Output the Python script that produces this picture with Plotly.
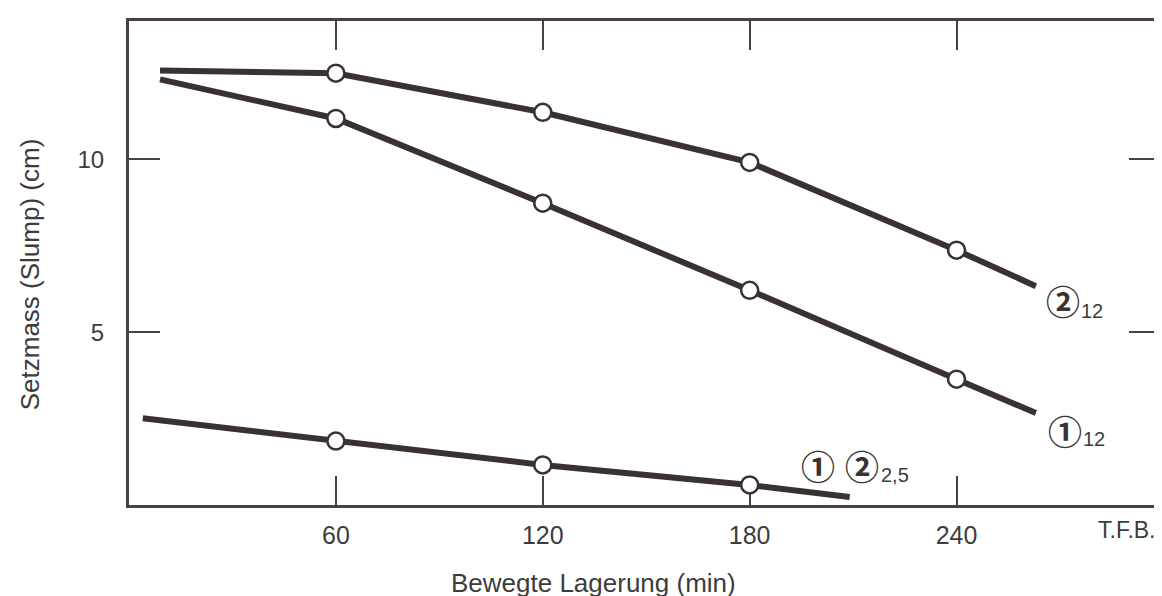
import plotly.graph_objects as go

# ---- data ----
time_2_12 = [9, 60, 120, 180, 240, 263]
slump_2_12 = [12.57, 12.49, 11.36, 9.91, 7.37, 6.33]
marker_2_12 = [False, True, True, True, True, False]

time_1_12 = [9, 60, 120, 180, 240, 263]
slump_1_12 = [12.31, 11.18, 8.73, 6.21, 3.64, 2.66]
marker_1_12 = [False, True, True, True, True, False]

time_2_5 = [4, 60, 120, 180, 209]
slump_2_5 = [2.51, 1.85, 1.16, 0.58, 0.23]
marker_2_5 = [False, True, True, True, False]

x_tickvals = [60, 120, 180, 240]
x_ticktext = ["60", "120", "180", "240"]
y_tickvals = [5, 10]
y_ticktext = ["5", "10"]

LINE = "#3a3131"
AXIS = "#4a4040"
TEXT = "#3c3c3c"
FONT = "Liberation Sans, Arial, sans-serif"
CJK = "Noto Sans CJK SC, DejaVu Sans, sans-serif"

fig = go.Figure()

for xs, ys, ms in [(time_2_12, slump_2_12, marker_2_12),
                   (time_1_12, slump_1_12, marker_1_12),
                   (time_2_5, slump_2_5, marker_2_5)]:
    fig.add_trace(go.Scatter(x=xs, y=ys, mode="lines",
                             line=dict(color=LINE, width=6),
                             hoverinfo="skip", showlegend=False))
    fig.add_trace(go.Scatter(x=[x for x, m in zip(xs, ms) if m],
                             y=[y for y, m in zip(ys, ms) if m],
                             mode="markers",
                             marker=dict(symbol="circle", size=17, color="white",
                                         line=dict(color=LINE, width=2.5)),
                             showlegend=False))

fig.update_xaxes(range=[0, 299], tickvals=x_tickvals, ticktext=x_ticktext,
                 showline=True, linecolor=AXIS, linewidth=3, mirror="ticks",
                 ticks="inside", ticklen=29, tickwidth=2, tickcolor=AXIS,
                 showgrid=False, zeroline=False, layer="below traces",
                 tickfont=dict(family=FONT, size=25, color=TEXT),
                 ticklabelstandoff=6)
fig.update_yaxes(range=[0, 14], tickvals=y_tickvals, ticktext=y_ticktext,
                 showline=True, linecolor=AXIS, linewidth=3, mirror="ticks",
                 ticks="inside", ticklen=31, tickwidth=2, tickcolor=AXIS,
                 showgrid=False, zeroline=False, layer="below traces",
                 tickfont=dict(family=FONT, size=24, color=TEXT),
                 ticklabelstandoff=17)

ann = []
# axis titles
ann.append(dict(text="Bewegte Lagerung (min)", xref="paper", yref="paper",
                x=0.4507, y=(497 - 575) / 484, xanchor="center", yanchor="middle",
                showarrow=False, font=dict(family=FONT, size=26, color=TEXT)))
ann.append(dict(text="Setzmass (Slump) (cm)", xref="paper", yref="paper",
                x=(22 - 121) / 1034, y=(497 - 266) / 484, xanchor="center", yanchor="middle",
                textangle=-90, showarrow=False,
                font=dict(family=FONT, size=26, color=TEXT)))
ann.append(dict(text="T.F.B.", xref="paper", yref="paper",
                x=(1122 - 121) / 1034, y=(497 - 522) / 484,
                xanchor="center", yanchor="middle", showarrow=False,
                font=dict(family=FONT, size=23, color=TEXT)))

# curve labels (circled digits + subscripts)
def circled(ch, xpx, ypx):
    ann.append(dict(text=ch, xref="paper", yref="paper",
                    x=(xpx - 121) / 1034, y=(497 - ypx) / 484,
                    xanchor="center", yanchor="middle", showarrow=False,
                    font=dict(family=CJK, size=34, color=LINE, weight="bold")))

def sub(t, xpx, ypx):
    ann.append(dict(text=t, xref="paper", yref="paper",
                    x=(xpx - 121) / 1034, y=(497 - ypx) / 484,
                    xanchor="left", yanchor="middle", showarrow=False,
                    font=dict(family=FONT, size=20, color=TEXT)))

circled("②", 1058, 292)
sub("12", 1074, 303)
circled("①", 1060, 422)
sub("12", 1076, 431)
circled("①", 812, 457)
circled("②", 856, 457)
sub("2,5", 873, 467)

fig.update_layout(width=1162, height=596,
                  margin=dict(l=121, r=7, t=13, b=99),
                  paper_bgcolor="white", plot_bgcolor="white",
                  annotations=ann)

fig.write_html("out.html")
